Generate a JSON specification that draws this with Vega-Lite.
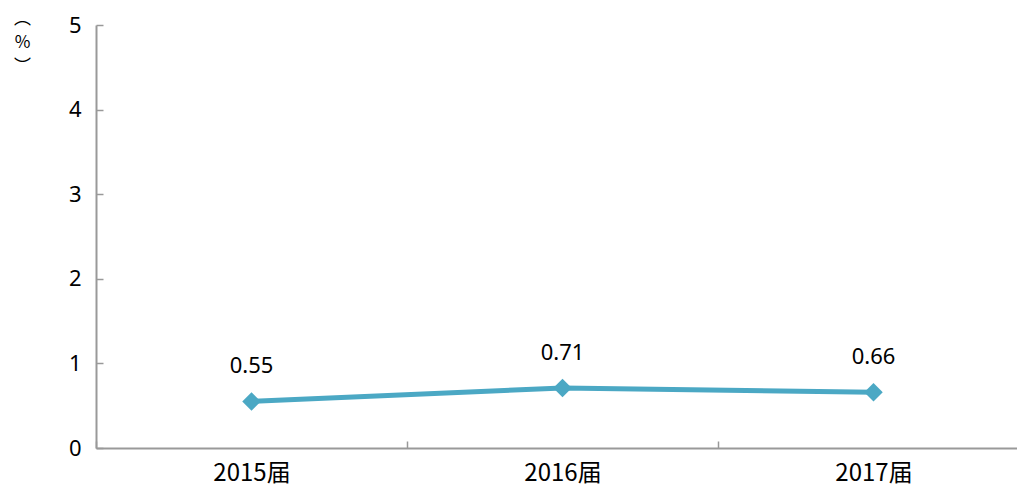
{
  "$schema": "https://vega.github.io/schema/vega-lite/v6.json",
  "autosize": "none",
  "width": 933,
  "height": 423,
  "padding": {"left": 96, "top": 25, "right": 0, "bottom": 48},
  "background": "white",
  "config": {"view": {"stroke": null}},
  "data": {"values": [
    {"year": "2015届", "value": 0.55},
    {"year": "2016届", "value": 0.71},
    {"year": "2017届", "value": 0.66}
  ]},
  "encoding": {
    "x": {"field": "year", "type": "nominal", "sort": null,
      "scale": {"paddingInner": 0, "paddingOuter": 0},
      "axis": {"title": null, "labelAngle": 0, "labelFont": "Noto Sans CJK SC", "labelFontSize": 24, "labelColor": "#000", "labelPadding": 20,
        "tickBand": "extent", "tickSize": -7, "tickColor": "#999", "tickWidth": 1.5, "domainColor": "#999", "domainWidth": 2}},
    "y": {"field": "value", "type": "quantitative",
      "scale": {"domain": [0, 5]},
      "axis": {"values": [0, 1, 2, 3, 4, 5], "grid": false, "labelFont": "Noto Sans", "labelFontSize": 22, "labelColor": "#000", "labelPadding": 22,
        "tickSize": -7, "tickColor": "#999", "tickWidth": 1.5, "domainColor": "#999", "domainWidth": 2,
        "title": ["︵", "%", "︶"], "titleAngle": 0, "titleFont": "Noto Sans CJK SC", "titleFontSize": 17, "titleFontWeight": "normal", "titleLineHeight": 24,
        "titleX": -74, "titleY": -15, "titleAlign": "center", "titleBaseline": "top"}}
  },
  "layer": [
    {"mark": {"type": "line", "color": "#4BA8C4", "strokeWidth": 5}},
    {"mark": {"type": "point", "shape": "diamond", "filled": true, "color": "#4BA8C4", "size": 340, "opacity": 1}},
    {"mark": {"type": "text", "font": "Noto Sans", "fontSize": 22, "color": "#000", "dy": -35}, "encoding": {"text": {"field": "value", "type": "quantitative", "format": ".2f"}}}
  ]
}
